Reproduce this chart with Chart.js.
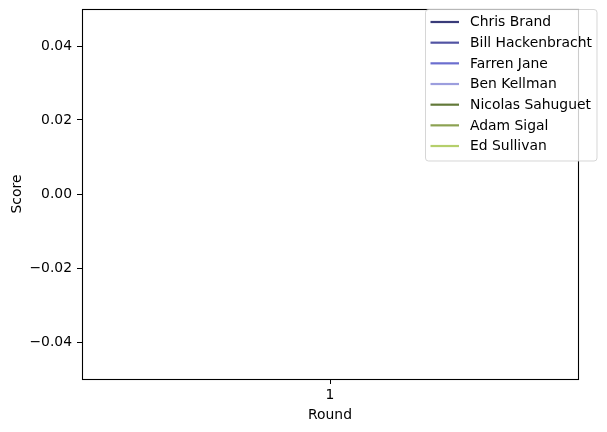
<!DOCTYPE html>
<html>
<head>
<meta charset="utf-8">
<script src="https://cdn.jsdelivr.net/npm/chart.js@4.4.0/dist/chart.umd.min.js"></script>
<style>
  html, body { margin: 0; padding: 0; background: #fff; }
  canvas { display: block; }
</style>
</head>
<body>
<canvas id="c" width="607" height="432"></canvas>
<script>
// ---- data ----
const players = ["Chris Brand", "Bill Hackenbracht", "Farren Jane", "Ben Kellman", "Nicolas Sahuguet", "Adam Sigal", "Ed Sullivan"];
const rounds = [1];
const scores = {
  "Chris Brand": [0],
  "Bill Hackenbracht": [0],
  "Farren Jane": [0],
  "Ben Kellman": [0],
  "Nicolas Sahuguet": [0],
  "Adam Sigal": [0],
  "Ed Sullivan": [0]
};
const yTickValues = [-0.04, -0.02, 0, 0.02, 0.04];
const xTickValues = [1];
const colors = ["#393b79", "#5254a3", "#6b6ecf", "#9c9ede", "#637939", "#8ca252", "#b5cf6b"];

const FONT = "'DejaVu Sans', sans-serif";
const FS = 13.9;

function fmtY(v) {
  const s = Math.abs(v).toFixed(2);
  return (v < -1e-9 ? "\u2212" : "") + s;
}

const frame = {
  id: 'frame',
  afterDraw(chart) {
    const {ctx, chartArea: a} = chart;
    ctx.save();
    ctx.strokeStyle = '#000';
    ctx.lineWidth = 1.1;
    ctx.strokeRect(Math.round(a.left) + 0.5, Math.round(a.top) + 0.5, Math.round(a.right - a.left), Math.round(a.bottom - a.top));
    ctx.restore();
  }
};

const mplLegend = {
  id: 'mplLegend',
  afterDraw(chart) {
    const {ctx} = chart;
    const ds = chart.data.datasets;
    const x0 = 425.5, y0 = 9.5, w = 171.5, h = 151.5;
    ctx.save();
    ctx.beginPath();
    if (ctx.roundRect) ctx.roundRect(x0, y0, w, h, 3); else ctx.rect(x0, y0, w, h);
    ctx.fillStyle = 'rgba(255,255,255,0.8)';
    ctx.fill();
    ctx.strokeStyle = 'rgba(204,204,204,0.8)';
    ctx.lineWidth = 1;
    ctx.stroke();
    ctx.font = FS + "px " + FONT;
    ctx.textBaseline = 'middle';
    ctx.textAlign = 'left';
    ds.forEach((d, i) => {
      const y = 22 + i * 20.67;
      ctx.strokeStyle = d.borderColor;
      ctx.lineWidth = 2.2;
      ctx.beginPath();
      ctx.moveTo(430.5, y);
      ctx.lineTo(459, y);
      ctx.stroke();
      ctx.fillStyle = '#000';
      ctx.fillText(d.label, 470, y + 0.8);
    });
    ctx.restore();
  }
};

const datasets = players.map((p, i) => ({
  label: p,
  data: rounds.map((r, j) => ({x: r, y: scores[p][j]})),
  borderColor: colors[i],
  backgroundColor: colors[i],
  borderWidth: 2,
  pointRadius: 0,
  pointHoverRadius: 0,
  fill: false
}));

new Chart(document.getElementById('c'), {
  type: 'line',
  data: { datasets },
  plugins: [frame, mplLegend],
  options: {
    responsive: false,
    animation: false,
    devicePixelRatio: 1,
    layout: { padding: { left: 0, top: 9, right: 29, bottom: 0 } },
    plugins: { legend: { display: false }, tooltip: { enabled: false } },
    events: [],
    scales: {
      x: {
        type: 'linear',
        min: 0.95,
        max: 1.05,
        afterBuildTicks(s) { s.ticks = xTickValues.map(v => ({value: v})); },
        afterFit(s) { s.height = 53; s.paddingLeft = 0; s.paddingRight = 0; },
        ticks: {
          color: '#000',
          font: { family: FONT, size: FS },
          padding: 3,
          maxRotation: 0,
          callback: v => String(v)
        },
        grid: { display: true, drawOnChartArea: false, drawTicks: true, tickLength: 5, color: '#000', lineWidth: 1 },
        border: { display: false },
        title: { display: true, text: 'Round', color: '#000', font: { family: FONT, size: FS }, padding: { top: 0, bottom: 8 } }
      },
      y: {
        type: 'linear',
        min: -0.05,
        max: 0.05,
        afterBuildTicks(s) { s.ticks = yTickValues.map(v => ({value: v})); },
        afterFit(s) { s.width = 82; s.paddingTop = 0; s.paddingBottom = 0; },
        ticks: {
          color: '#000',
          font: { family: FONT, size: FS },
          padding: 5,
          callback: v => fmtY(v)
        },
        grid: { display: true, drawOnChartArea: false, drawTicks: true, tickLength: 5, color: '#000', lineWidth: 1 },
        border: { display: false },
        title: { display: true, text: 'Score', color: '#000', font: { family: FONT, size: FS }, padding: { top: 8.7, bottom: 0 } }
      }
    }
  }
});
</script>
</body>
</html>
